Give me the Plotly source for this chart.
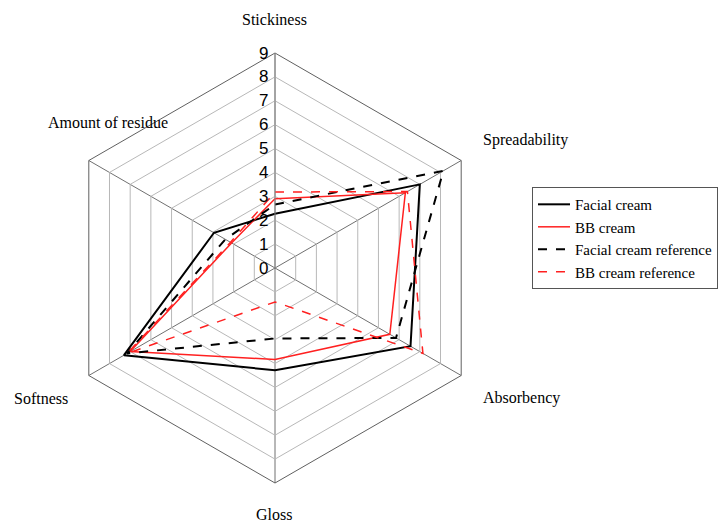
import plotly.graph_objects as go

categories = ["Stickiness", "Spreadability", "Absorbency", "Gloss", "Softness", "Amount of residue"]
facial_cream = [2.27, 7.0, 6.55, 4.28, 7.3, 2.95]
bb_cream = [2.9, 6.3, 5.55, 3.83, 7.0, 2.1]
facial_ref = [2.66, 8.14, 5.85, 2.95, 7.15, 2.4]
bb_ref = [3.18, 6.4, 7.15, 1.42, 7.15, 2.15]
radial_ticks = list(range(0, 10))

# label placement (pixels from top-left) for the category names
label_pos = {
    "Stickiness": (274, 20),
    "Spreadability": (525, 140),
    "Absorbency": (521, 398),
    "Gloss": (274, 514),
    "Softness": (41, 398),
    "Amount of residue": (108, 122),
}

series = [
    ("Facial cream", facial_cream, "black", "solid", 2),
    ("BB cream", bb_cream, "#ff2020", "solid", 1.5),
    ("Facial cream reference", facial_ref, "black", "dash", 2),
    ("BB cream reference", bb_ref, "#ff2020", "dash", 1.5),
]

fig = go.Figure()
for name, vals, color, dash, width in series:
    fig.add_trace(go.Scatterpolar(
        r=vals + vals[:1],
        theta=categories + categories[:1],
        mode="lines",
        name=name,
        line=dict(color=color, dash=dash, width=width),
    ))

W, H = 720, 524
annotations = []
for cat in categories:
    px, py = label_pos[cat]
    annotations.append(dict(
        text=cat, x=px / W, y=1 - py / H, xref="paper", yref="paper",
        xanchor="center", yanchor="middle", showarrow=False,
        font=dict(family="Liberation Serif", size=16, color="black"),
    ))

fig.update_layout(
    width=W, height=H,
    margin=dict(l=0, r=0, t=0, b=0, autoexpand=False),
    paper_bgcolor="white",
    plot_bgcolor="white",
    showlegend=True,
    annotations=annotations,
    legend=dict(
        x=532 / W, y=0.643, xanchor="left", yanchor="top",
        font=dict(family="Liberation Serif", size=15, color="black"),
        bordercolor="#555555", borderwidth=1,
        tracegroupgap=0, itemwidth=32,
    ),
    polar=dict(
        domain=dict(x=[60 / W, 490 / W], y=[41 / H, 471 / H]),
        bgcolor="white",
        gridshape="linear",
        radialaxis=dict(
            range=[0, 9], tickvals=radial_ticks, ticktext=[str(v) for v in radial_ticks],
            angle=90, side="counterclockwise", tickangle=90,
            showline=True, linecolor="#909090", linewidth=1,
            gridcolor="#b8b8b8", gridwidth=1,
            ticks="", tickfont=dict(family="Liberation Sans", size=17, color="black"),
        ),
        angularaxis=dict(
            direction="clockwise", rotation=90,
            showline=True, linecolor="#606060", linewidth=1,
            gridcolor="#707070", gridwidth=1,
            showticklabels=False, ticks="",
        ),
    ),
)

fig.write_html(
    "out.html",
    config={"displayModeBar": False},
    post_script="document.body.style.margin='0';document.body.style.padding='0';",
)
